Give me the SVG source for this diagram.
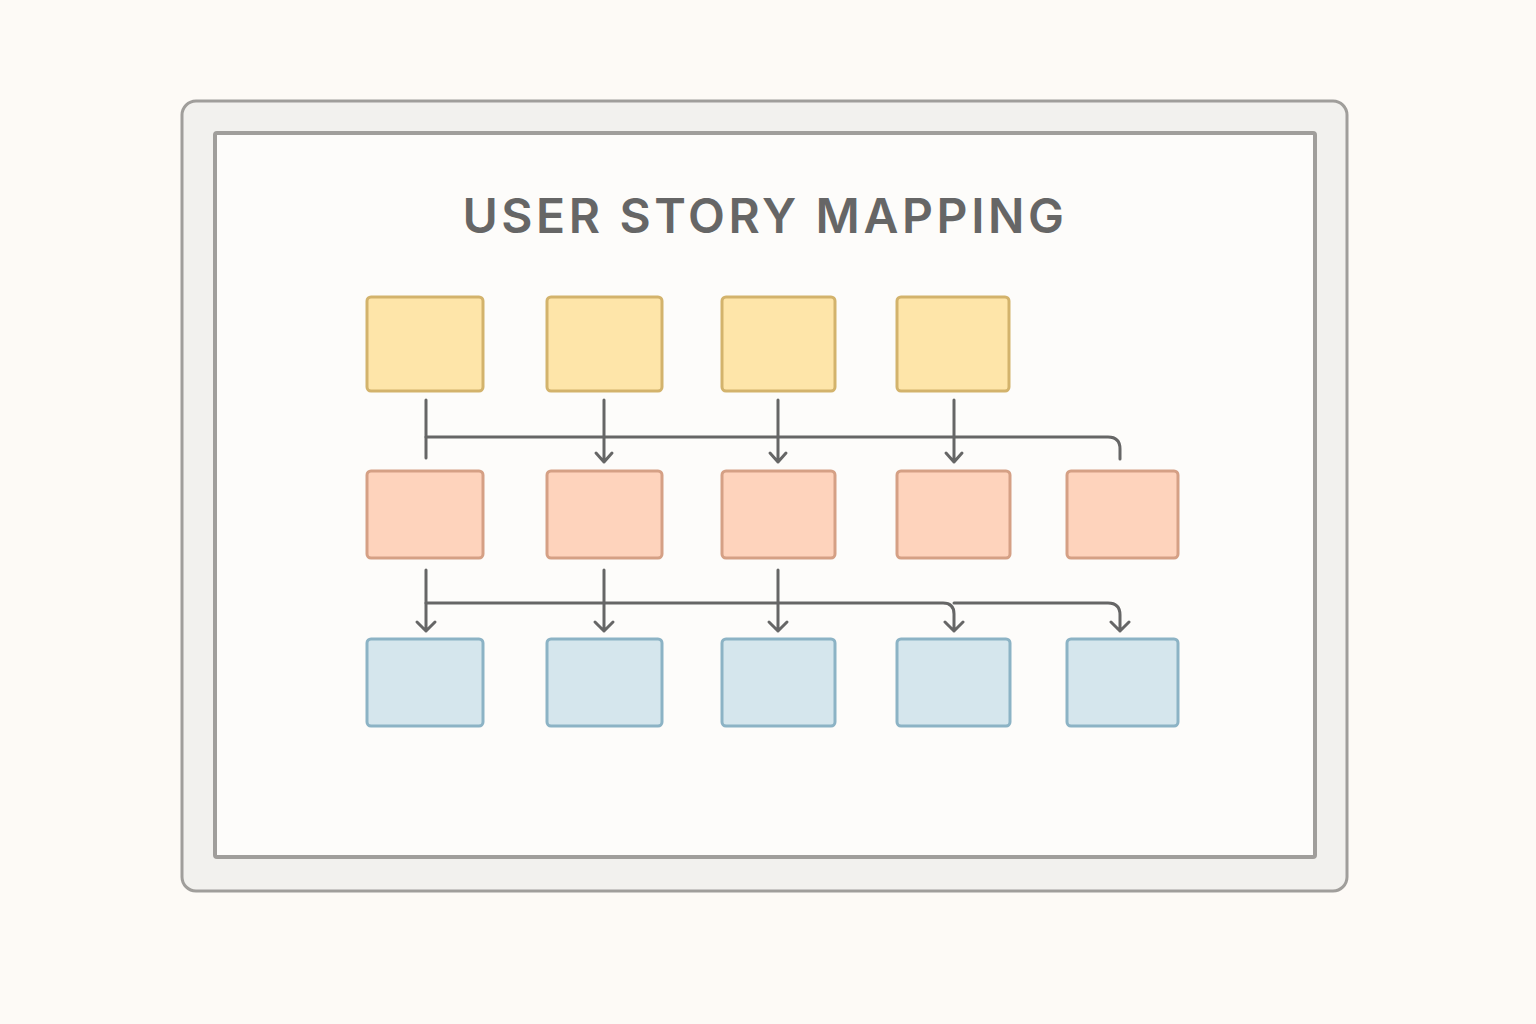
<svg xmlns="http://www.w3.org/2000/svg" width="1536" height="1024" viewBox="0 0 1536 1024">
<defs>
<style>
.y{fill:#fee5a9;stroke:#d3b36c;stroke-width:3}
.o{fill:#fed3bc;stroke:#d5a085;stroke-width:3}
.b{fill:#d5e6ed;stroke:#8cb3c5;stroke-width:3}
.c{fill:none;stroke:#666;stroke-width:3;stroke-linecap:round;stroke-linejoin:round}
</style>
</defs>
<rect width="1536" height="1024" fill="#fdfaf6"/>
<rect x="182" y="101" width="1165" height="790" rx="14" fill="#f2f1ee" stroke="#a09e9b" stroke-width="3"/>
<rect x="215" y="133" width="1100" height="724" rx="2" fill="#fdfcfa" stroke="#a09e9b" stroke-width="4"/>
<text x="765" y="233" text-anchor="middle" font-family="Inter, 'Open Sans', sans-serif" font-size="48" font-weight="600" letter-spacing="3.6" fill="#666">USER STORY MAPPING</text>
<g id="y1"><rect class="y" x="367" y="297" width="116" height="94" rx="4"/></g>
<g id="y2"><rect class="y" x="547" y="297" width="115" height="94" rx="4"/></g>
<g id="y3"><rect class="y" x="722" y="297" width="113" height="94" rx="4"/></g>
<g id="y4"><rect class="y" x="897" y="297" width="112" height="94" rx="4"/></g>
<g id="o1"><rect class="o" x="367" y="471" width="116" height="87" rx="4"/></g>
<g id="o2"><rect class="o" x="547" y="471" width="115" height="87" rx="4"/></g>
<g id="o3"><rect class="o" x="722" y="471" width="113" height="87" rx="4"/></g>
<g id="o4"><rect class="o" x="897" y="471" width="113" height="87" rx="4"/></g>
<g id="o5"><rect class="o" x="1067" y="471" width="111" height="87" rx="4"/></g>
<g id="b1"><rect class="b" x="367" y="639" width="116" height="87" rx="4"/></g>
<g id="b2"><rect class="b" x="547" y="639" width="115" height="87" rx="4"/></g>
<g id="b3"><rect class="b" x="722" y="639" width="113" height="87" rx="4"/></g>
<g id="b4"><rect class="b" x="897" y="639" width="113" height="87" rx="4"/></g>
<g id="b5"><rect class="b" x="1067" y="639" width="111" height="87" rx="4"/></g>
<g id="connectors" class="c">
<path d="M426 400 V458"/>
<path d="M426 437 H1108 Q1120 437 1120 449 V459"/>
<path d="M604 400 V462 M596 453 L604 462 L612 453"/>
<path d="M778 400 V462 M770 453 L778 462 L786 453"/>
<path d="M954 400 V462 M946 453 L954 462 L962 453"/>
<path d="M426 570 V631 M417 622 L426 631 L435 622"/>
<path d="M604 570 V631 M595 622 L604 631 L613 622"/>
<path d="M778 570 V631 M769 622 L778 631 L787 622"/>
<path d="M426 603 H943 Q954 603 954 614 V631 M945 622 L954 631 L963 622"/>
<path d="M954 603 H1108 Q1120 603 1120 615 V631 M1111 622 L1120 631 L1129 622"/>
</g>
</svg>
